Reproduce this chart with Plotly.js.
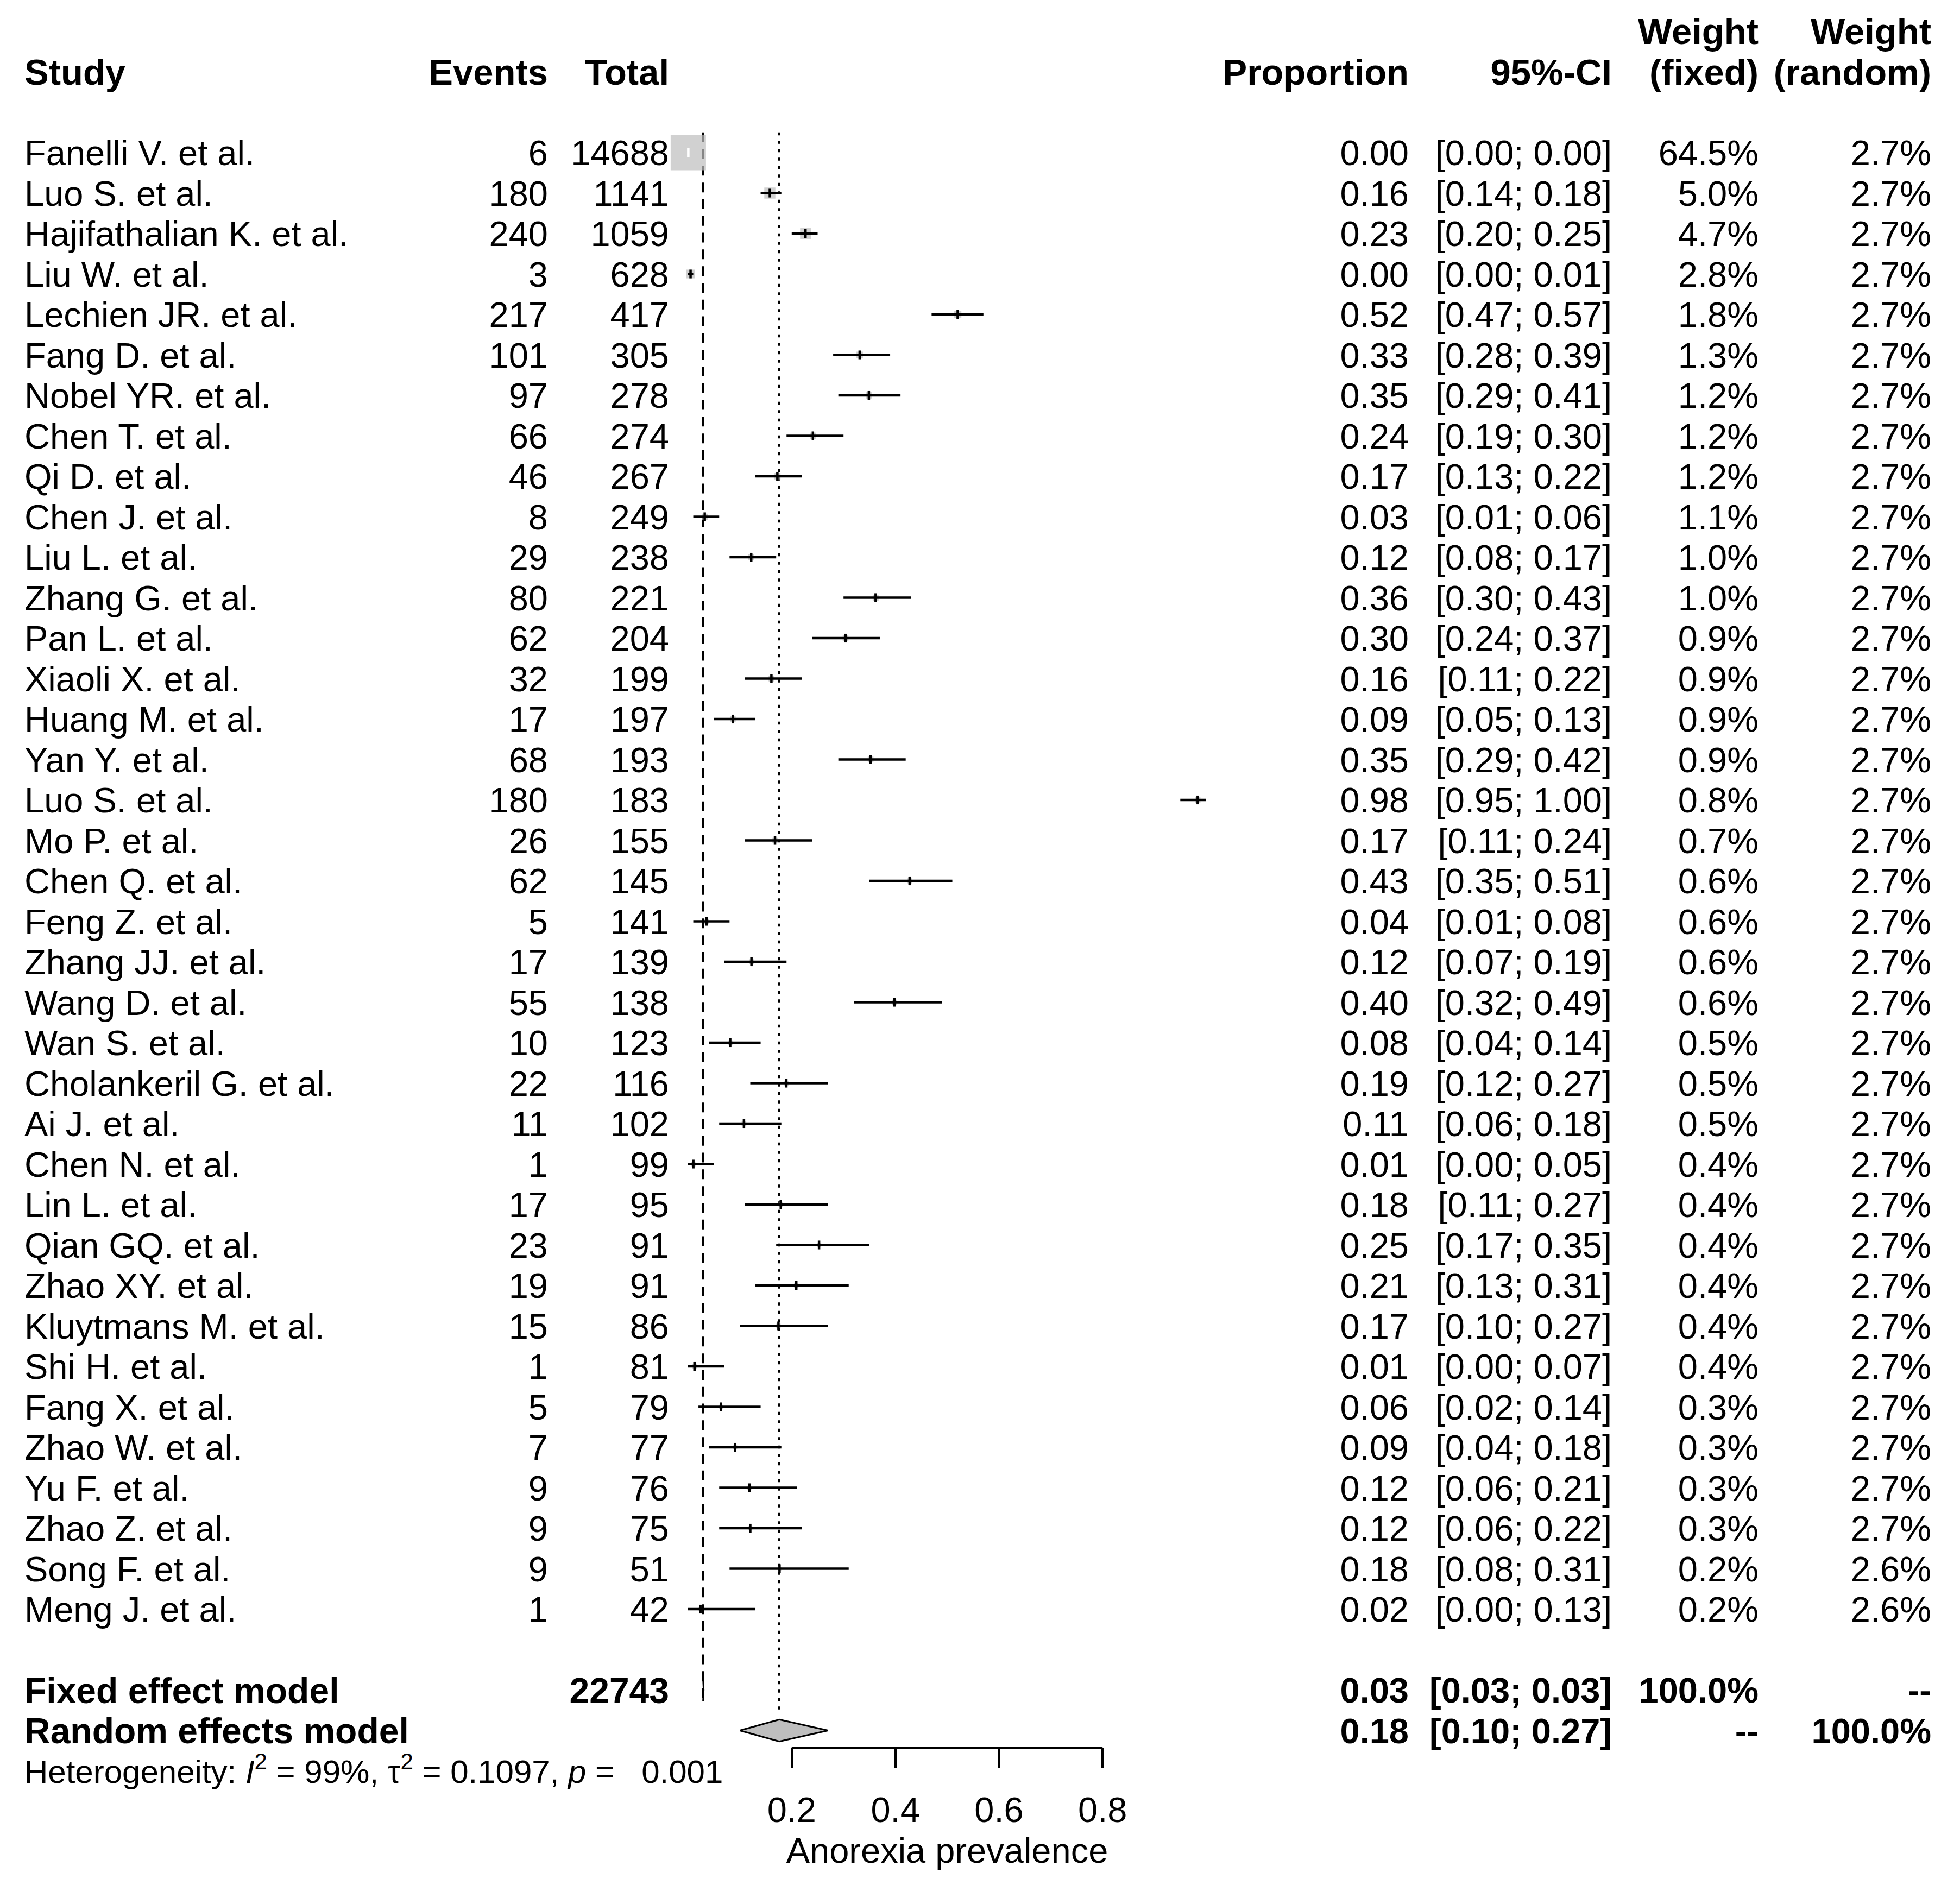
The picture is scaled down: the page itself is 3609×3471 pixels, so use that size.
<!DOCTYPE html>
<html>
<head>
<meta charset="utf-8">
<script src="https://cdn.plot.ly/plotly-3.0.1.min.js"></script>
<style>html,body{margin:0;padding:0;background:#fff;}#chart{width:3609px;height:3471px;}</style>
</head>
<body>
<div id="chart"></div>
<script>
// ---------------- data ----------------
const studies = ["Fanelli V. et al.", "Luo S. et al.", "Hajifathalian K. et al.", "Liu W. et al.", "Lechien JR. et al.", "Fang D. et al.", "Nobel YR. et al.", "Chen T. et al.", "Qi D. et al.", "Chen J. et al.", "Liu L. et al.", "Zhang G. et al.", "Pan L. et al.", "Xiaoli X. et al.", "Huang M. et al.", "Yan Y. et al.", "Luo S. et al.", "Mo P. et al.", "Chen Q. et al.", "Feng Z. et al.", "Zhang JJ. et al.", "Wang D. et al.", "Wan S. et al.", "Cholankeril G. et al.", "Ai J. et al.", "Chen N. et al.", "Lin L. et al.", "Qian GQ. et al.", "Zhao XY. et al.", "Kluytmans M. et al.", "Shi H. et al.", "Fang X. et al.", "Zhao W. et al.", "Yu F. et al.", "Zhao Z. et al.", "Song F. et al.", "Meng J. et al."];
const events = [6, 180, 240, 3, 217, 101, 97, 66, 46, 8, 29, 80, 62, 32, 17, 68, 180, 26, 62, 5, 17, 55, 10, 22, 11, 1, 17, 23, 19, 15, 1, 5, 7, 9, 9, 9, 1];
const totals = [14688, 1141, 1059, 628, 417, 305, 278, 274, 267, 249, 238, 221, 204, 199, 197, 193, 183, 155, 145, 141, 139, 138, 123, 116, 102, 99, 95, 91, 91, 86, 81, 79, 77, 76, 75, 51, 42];
const proportion = [0.00, 0.16, 0.23, 0.00, 0.52, 0.33, 0.35, 0.24, 0.17, 0.03, 0.12, 0.36, 0.30, 0.16, 0.09, 0.35, 0.98, 0.17, 0.43, 0.04, 0.12, 0.40, 0.08, 0.19, 0.11, 0.01, 0.18, 0.25, 0.21, 0.17, 0.01, 0.06, 0.09, 0.12, 0.12, 0.18, 0.02];
const ciLower = [0.00, 0.14, 0.20, 0.00, 0.47, 0.28, 0.29, 0.19, 0.13, 0.01, 0.08, 0.30, 0.24, 0.11, 0.05, 0.29, 0.95, 0.11, 0.35, 0.01, 0.07, 0.32, 0.04, 0.12, 0.06, 0.00, 0.11, 0.17, 0.13, 0.10, 0.00, 0.02, 0.04, 0.06, 0.06, 0.08, 0.00];
const ciUpper = [0.00, 0.18, 0.25, 0.01, 0.57, 0.39, 0.41, 0.30, 0.22, 0.06, 0.17, 0.43, 0.37, 0.22, 0.13, 0.42, 1.00, 0.24, 0.51, 0.08, 0.19, 0.49, 0.14, 0.27, 0.18, 0.05, 0.27, 0.35, 0.31, 0.27, 0.07, 0.14, 0.18, 0.21, 0.22, 0.31, 0.13];
const weightFixed = [64.5, 5.0, 4.7, 2.8, 1.8, 1.3, 1.2, 1.2, 1.2, 1.1, 1.0, 1.0, 0.9, 0.9, 0.9, 0.9, 0.8, 0.7, 0.6, 0.6, 0.6, 0.6, 0.5, 0.5, 0.5, 0.4, 0.4, 0.4, 0.4, 0.4, 0.4, 0.3, 0.3, 0.3, 0.3, 0.2, 0.2];
const weightRandom = [2.7, 2.7, 2.7, 2.7, 2.7, 2.7, 2.7, 2.7, 2.7, 2.7, 2.7, 2.7, 2.7, 2.7, 2.7, 2.7, 2.7, 2.7, 2.7, 2.7, 2.7, 2.7, 2.7, 2.7, 2.7, 2.7, 2.7, 2.7, 2.7, 2.7, 2.7, 2.7, 2.7, 2.7, 2.7, 2.6, 2.6];

const fixedModel = {est: 0.029, lo: 0.03, hi: 0.03, label: "0.03", ciLabel: "[0.03; 0.03]"};
const randomModel = {est: 0.176, lo: 0.10, hi: 0.27, label: "0.18", ciLabel: "[0.10; 0.27]"};
const totalN = 22743;
const heterogeneity = "Heterogeneity: <i>I</i><sup>2</sup> = 99%, \u03c4<sup>2</sup> = 0.1097, <i>p</i> =\u00a0\u00a0 0.001";

const headerTop = ["Weight", "Weight"];
const headerMain = ["Study", "Events", "Total", "Proportion", "95%-CI", "(fixed)", "(random)"];
const tickValues = [0.2, 0.4, 0.6, 0.8];
const axisTitle = "Anorexia prevalence";

// ---------------- layout geometry ----------------
const W = 3609, H = 3471;
const ROW0 = 281, ROWH = 74.5;         // pixel centre of first study row, row pitch
const X0 = 1267, XU = 954;             // pixel of value 0, pixels per unit
const FONT = "Liberation Sans, Arial, sans-serif";
const FS = 65, FSB = 67, FSH = 60;
const TXT_SHIFT = 0.094;               // vertical correction for text baseline
const col = {study: 45, events: 1009, total: 1232, prop: 2594, ci: 2968, wf: 3238, wr: 3556};
const nStudies = studies.length;
const rows = studies.map((_, i) => i);
const rowFixed = nStudies + 1, rowRandom = nStudies + 2, rowHet = nStudies + 3;
const axisYpx = 3218, axisTitleRow = (3407 - ROW0) / ROWH;

const traces = [];

// reference lines (behind everything)
traces.push({x: [fixedModel.est, fixedModel.est], y: [-0.5, rowFixed + 0.2], mode: "lines",
  line: {color: "black", width: 4, dash: "18px,12.8px"}, hoverinfo: "skip"});
traces.push({x: [randomModel.est, randomModel.est], y: [-0.5, rowRandom - 0.5], mode: "lines",
  line: {color: "black", width: 4, dash: "5.5px,10px"}, hoverinfo: "skip"});

// squares sized by fixed-effect weight
const est = events.map((e, i) => e / totals[i]);
const sides = weightFixed.map(w => 3.2 + 7.7 * Math.sqrt(w));
traces.push({x: est, y: rows, mode: "markers", hoverinfo: "skip",
  marker: {symbol: "square", size: sides, color: "#BEBEBE", line: {width: 0}}});

// CI lines (white when inside the square)
const inside = ciLower.map((lo, i) => (ciUpper[i] - lo) * XU < sides[i] / 2);
function ciTrace(flag, color) {
  const xs = [], ys = [];
  rows.forEach(i => { if (inside[i] === flag) { xs.push(ciLower[i], ciUpper[i], null); ys.push(i, i, null); } });
  return {x: xs, y: ys, mode: "lines", line: {color: color, width: 4.5}, hoverinfo: "skip"};
}
traces.push(ciTrace(false, "black"));
traces.push(ciTrace(true, "white"));
// point-estimate ticks
traces.push({x: est, y: rows, mode: "markers", hoverinfo: "skip",
  marker: {symbol: "line-ns", size: 11.5, color: "black",
    line: {width: 4.5, color: inside.map(f => f ? "white" : "black")}}});

// diamonds
function diamond(m, r) {
  const h = 0.27;
  return {x: [m.lo, m.est, m.hi, m.est, m.lo], y: [r, r - h, r, r + h, r], mode: "lines",
    fill: "toself", fillcolor: "#BEBEBE", line: {color: "black", width: 3}, hoverinfo: "skip"};
}
traces.push(diamond(fixedModel, rowFixed));
traces.push(diamond(randomModel, rowRandom));

// ---------------- text columns ----------------
function textCol(xpx, ys, texts, align, bold, size) {
  return {x: ys.map(() => xpx), y: ys.map(r => r + TXT_SHIFT), text: texts, mode: "text", xaxis: "x3",
    textposition: align === "left" ? "middle right" : "middle left", hoverinfo: "skip", cliponaxis: false,
    textfont: {family: FONT, size: size || (bold ? FSB : FS), color: "black", weight: bold ? "bold" : "normal"}};
}
const fmt2 = v => v.toFixed(2);
traces.push(textCol(col.study, rows, studies, "left", false));
traces.push(textCol(col.events, rows, events.map(String), "right", false));
traces.push(textCol(col.total, rows, totals.map(String), "right", false));
traces.push(textCol(col.prop, rows, proportion.map(fmt2), "right", false));
traces.push(textCol(col.ci, rows, ciLower.map((lo, i) => "[" + fmt2(lo) + "; " + fmt2(ciUpper[i]) + "]"), "right", false));
traces.push(textCol(col.wf, rows, weightFixed.map(w => w.toFixed(1) + "%"), "right", false));
traces.push(textCol(col.wr, rows, weightRandom.map(w => w.toFixed(1) + "%"), "right", false));

// headers
traces.push(textCol(col.study, [-2], [headerMain[0]], "left", true));
traces.push(textCol(col.events, [-2], [headerMain[1]], "right", true));
traces.push(textCol(col.total, [-2], [headerMain[2]], "right", true));
traces.push(textCol(col.prop, [-2], [headerMain[3]], "right", true));
traces.push(textCol(col.ci, [-2], [headerMain[4]], "right", true));
traces.push(textCol(col.wf, [-3, -2], [headerTop[0], headerMain[5]], "right", true));
traces.push(textCol(col.wr, [-3, -2], [headerTop[1], headerMain[6]], "right", true));

// summary rows
traces.push(textCol(col.study, [rowFixed, rowRandom], ["Fixed effect model", "Random effects model"], "left", true, FS + 1));
traces.push(textCol(col.total, [rowFixed], [String(totalN)], "right", true, FS + 1));
traces.push(textCol(col.prop, [rowFixed, rowRandom], [fixedModel.label, randomModel.label], "right", true, FS));
traces.push(textCol(col.ci, [rowFixed, rowRandom], [fixedModel.ciLabel, randomModel.ciLabel], "right", true, FS));
traces.push(textCol(col.wf, [rowFixed, rowRandom], ["100.0%", "--"], "right", true, FS));
traces.push(textCol(col.wr, [rowFixed, rowRandom], ["--", "100.0%"], "right", true, FS));
traces.push(textCol(col.study, [rowHet], [heterogeneity], "left", false, FSH));

// axis title, centred under the axis ticks (x in data units of the forest axis)
traces.push({x: [(tickValues[0] + tickValues[tickValues.length - 1]) / 2], y: [axisTitleRow + TXT_SHIFT],
  text: [axisTitle], mode: "text", textposition: "middle center", hoverinfo: "skip", cliponaxis: false,
  textfont: {family: FONT, size: FS, color: "black"}});

// ---------------- layout ----------------
const layout = {
  width: W, height: H, margin: {l: 0, r: 0, t: 0, b: 0, pad: 0},
  paper_bgcolor: "white", plot_bgcolor: "white", showlegend: false,
  font: {family: FONT, size: FS, color: "black"},
  xaxis: {domain: [0, 1], range: [-X0 / XU, (W - X0) / XU], fixedrange: true,
    anchor: "free", position: 1 - axisYpx / H, side: "bottom",
    showline: false, showgrid: false, zeroline: false,
    ticks: "outside", ticklen: 36, tickwidth: 4, tickcolor: "black",
    tickmode: "array", tickvals: tickValues, ticktext: tickValues.map(v => String(v)),
    ticklabelstandoff: 22,
    tickfont: {family: FONT, size: FS, color: "black"}},
  xaxis3: {overlaying: "x", range: [0, W], visible: false, fixedrange: true},
  yaxis: {domain: [0, 1], range: [(H - ROW0) / ROWH, -ROW0 / ROWH], visible: false, fixedrange: true},
  shapes: [{type: "line", xref: "x", yref: "paper", x0: tickValues[0], x1: tickValues[tickValues.length - 1],
    y0: 1 - axisYpx / H, y1: 1 - axisYpx / H, line: {color: "black", width: 4}}]
};

Plotly.newPlot("chart", traces, layout, {staticPlot: true, displayModeBar: false});
</script>
</body>
</html>
